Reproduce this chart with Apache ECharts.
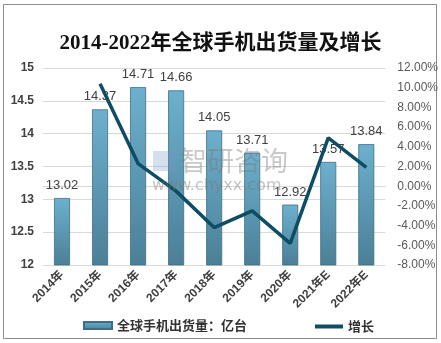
<!DOCTYPE html>
<html><head><meta charset="utf-8">
<script src="https://cdn.jsdelivr.net/npm/echarts@6/dist/echarts.min.js"></script>
<style>html,body{margin:0;padding:0;background:#fff}#c{width:441px;height:343px}</style>
</head><body><div id="c"></div>
<script>
const categories = ['2014年','2015年','2016年','2017年','2018年','2019年','2020年','2021年E','2022年E'];
const shipments = [13.02, 14.37, 14.71, 14.66, 14.05, 13.71, 12.92, 13.57, 13.84];
const growth = [null, 10.4, 2.3, -0.5, -4.2, -2.5, -5.8, 4.9, 1.9];
const leftTicks = {min: 12, max: 15, interval: 0.5};
const rightTicks = {min: -8, max: 12, interval: 2};

const chart = echarts.init(document.getElementById('c'));
chart.setOption({
  animation: false,
  backgroundColor: '#fff',
  title: {
    text: '2014-2022年全球手机出货量及增长',
    left: 'center', top: 28,
    textStyle: {fontFamily: 'Liberation Serif, Noto Sans CJK SC', fontSize: 21, fontWeight: 'bold', color: '#111'}
  },
  graphic: [
    {type: 'rect', shape: {x: 3.5, y: 4.5, width: 433, height: 334}, style: {fill: 'none', stroke: '#8c8c8c', lineWidth: 1}, silent: true},
    {type: 'text', left: 180, top: 147, z: 100, style: {text: '智研咨询', fontSize: 27, fill: 'rgba(120,120,120,0.4)', fontFamily: 'Noto Sans CJK SC'}},
    {type: 'text', left: 152, top: 178, z: 100, style: {text: 'www.chyxx.com', fontSize: 16, fill: 'rgba(120,120,120,0.45)', fontFamily: 'DejaVu Sans'}},
    {type: 'rect', left: 153, top: 151, z: 100, shape: {width: 22, height: 20}, style: {fill: 'rgba(120,150,200,0.3)'}}
  ],
  legend: [
    {data: [{name: '全球手机出货量：亿台', icon: 'rect'}], left: 78, top: 314, itemWidth: 28, itemHeight: 7,
     textStyle: {fontSize: 13, fontWeight: 'bold', color: '#333', fontFamily: 'Noto Sans CJK SC'}},
    {data: [{name: '增长', icon: 'rect'}], left: 310, top: 315, itemWidth: 28, itemHeight: 4,
     textStyle: {fontSize: 13, fontWeight: 'bold', color: '#333', fontFamily: 'Noto Sans CJK SC'}}
  ],
  grid: {left: 43, right: 53, top: 68, bottom: 78},
  xAxis: {
    type: 'category', data: categories,
    axisLine: {lineStyle: {color: '#d9d9d9'}},
    axisTick: {show: false},
    axisLabel: {rotate: 45, fontSize: 12, fontWeight: 'bold', color: '#404040', margin: 8, interval: 0, fontFamily: 'Liberation Sans, Noto Sans CJK SC'}
  },
  yAxis: [
    {type: 'value', min: leftTicks.min, max: leftTicks.max, interval: leftTicks.interval,
     axisLine: {show: false}, axisTick: {show: false},
     splitLine: {lineStyle: {color: '#d9d9d9'}},
     axisLabel: {fontSize: 12, fontWeight: 'bold', color: '#404040', margin: 9, fontFamily: 'Liberation Sans'}},
    {type: 'value', min: rightTicks.min, max: rightTicks.max, interval: rightTicks.interval,
     axisLine: {show: false}, axisTick: {show: false}, splitLine: {show: false},
     axisLabel: {fontSize: 12, color: '#595959', margin: 12, fontFamily: 'Liberation Sans',
       formatter: v => v.toFixed(2) + '%'}}
  ],
  series: [
    {name: '全球手机出货量：亿台', type: 'bar', data: shipments, barWidth: 16, yAxisIndex: 0,
     itemStyle: {
       color: new echarts.graphic.LinearGradient(0, 0, 0, 1, [{offset: 0, color: '#6db0cd'}, {offset: 1, color: '#4b7f97'}]),
       borderColor: '#3e6e84', borderWidth: 0.8
     },
     label: {show: true, position: 'top', fontSize: 13, color: '#404040', fontFamily: 'Liberation Sans', distance: 6}},
    {name: '增长', type: 'line', data: growth, yAxisIndex: 1, symbol: 'none', connectNulls: false,
     lineStyle: {color: '#0e4d63', width: 3.5}, itemStyle: {color: '#0e4d63'}}
  ]
});
</script></body></html>
